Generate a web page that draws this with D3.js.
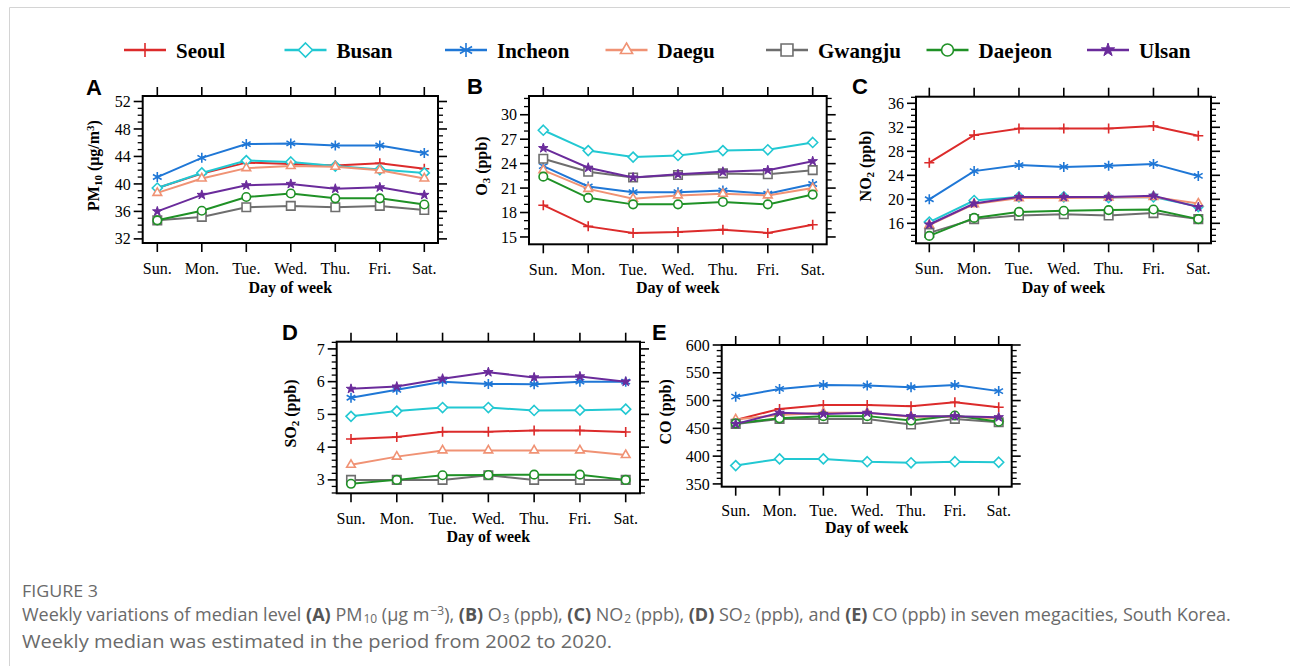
<!DOCTYPE html>
<html>
<head>
<meta charset="utf-8">
<script src="https://cdn.jsdelivr.net/npm/d3@7"></script>
<style>
  body { margin: 0; background: #fff; }
  svg { display: block; }
</style>
</head>
<body>
<div id="chart"></div>
<script>
const days = ['Sun.', 'Mon.', 'Tue.', 'Wed.', 'Thu.', 'Fri.', 'Sat.'];
const cities = ['Seoul', 'Busan', 'Incheon', 'Daegu', 'Gwangju', 'Daejeon', 'Ulsan'];
const colors = ['#dc2b2b', '#22c8d2', '#1f77d6', '#f09274', '#6e6e6e', '#1f9126', '#6a2b9b'];
const markers = ['plus', 'diamond', 'asterisk', 'triangle', 'square', 'circle', 'star'];

// one row per city (same order as cities), Sun..Sat
const pm10 = [
  [39.4, 41.5, 43.1, 42.9, 42.7, 43.0, 42.2],
  [39.4, 41.6, 43.4, 43.2, 42.6, 42.1, 41.6],
  [41.0, 43.8, 45.8, 45.9, 45.6, 45.6, 44.5],
  [38.7, 40.8, 42.3, 42.6, 42.5, 42.0, 40.8],
  [34.7, 35.2, 36.6, 36.8, 36.6, 36.8, 36.2],
  [34.7, 36.1, 38.1, 38.6, 37.9, 37.9, 37.0],
  [36.0, 38.4, 39.8, 40.0, 39.3, 39.5, 38.4]
];
const o3 = [
  [18.9, 16.3, 15.5, 15.6, 15.9, 15.5, 16.5],
  [28.1, 25.6, 24.8, 25.0, 25.6, 25.7, 26.6],
  [23.7, 21.2, 20.5, 20.5, 20.7, 20.3, 21.5],
  [23.2, 20.9, 19.7, 20.1, 20.3, 20.1, 21.0],
  [24.6, 23.0, 22.3, 22.6, 22.8, 22.7, 23.2],
  [22.4, 19.8, 19.0, 19.0, 19.3, 19.0, 20.2],
  [25.9, 23.5, 22.3, 22.7, 23.0, 23.2, 24.3]
];
const no2 = [
  [26.1, 30.7, 31.8, 31.8, 31.8, 32.2, 30.6],
  [16.2, 19.8, 20.4, 20.4, 20.3, 20.4, 18.8],
  [20.0, 24.7, 25.7, 25.4, 25.6, 25.9, 23.9],
  [15.7, 19.2, 20.2, 20.2, 20.3, 20.4, 19.3],
  [14.4, 16.7, 17.3, 17.5, 17.3, 17.7, 16.7],
  [13.9, 16.9, 17.9, 18.1, 18.2, 18.3, 16.7],
  [15.8, 19.3, 20.4, 20.4, 20.4, 20.6, 18.7]
];
const so2 = [
  [4.25, 4.31, 4.47, 4.47, 4.51, 4.51, 4.46],
  [4.94, 5.10, 5.21, 5.21, 5.12, 5.13, 5.16],
  [5.51, 5.75, 6.00, 5.93, 5.92, 6.00, 6.00],
  [3.46, 3.71, 3.90, 3.90, 3.90, 3.90, 3.76],
  [3.00, 3.00, 3.00, 3.14, 3.00, 3.00, 3.00],
  [2.88, 3.00, 3.14, 3.15, 3.16, 3.16, 3.00],
  [5.78, 5.85, 6.09, 6.29, 6.13, 6.16, 6.00]
];
const co = [
  [465, 485, 492, 492, 490, 497, 488],
  [383, 395, 395, 390, 388, 390, 389],
  [507, 521, 528, 527, 524, 528, 517],
  [466, 474, 478, 478, 471, 471, 468],
  [458, 467, 467, 467, 457, 467, 461],
  [459, 468, 472, 472, 464, 473, 462],
  [458, 478, 476, 478, 472, 472, 470]
];

const pm10Ticks = [32, 36, 40, 44, 48, 52];
const o3Ticks = [15, 18, 21, 24, 27, 30];
const no2Ticks = [16, 20, 24, 28, 32, 36];
const so2Ticks = [3, 4, 5, 6, 7];
const coTicks = [350, 400, 450, 500, 550, 600];

const width = 1290, height = 666;
const serif = "'Liberation Serif', 'Times New Roman', serif";

const svg = d3.select('#chart').append('svg')
  .attr('width', width)
  .attr('height', height);

// page border (top + left)
svg.append('path')
  .attr('d', `M9.5,${height} V7.5 H${width}`)
  .attr('fill', 'none')
  .attr('stroke', '#d4d4d4')
  .attr('stroke-width', 1);

function markerPath(type, r) {
  const c = Math.cos(Math.PI / 6) * r, s = Math.sin(Math.PI / 6) * r;
  const q = r * 0.85;
  switch (type) {
    case 'plus': return `M${-r},0H${r}M0,${-r}V${r}`;
    case 'diamond': return `M0,${-r}L${r},0L0,${r}L${-r},0Z`;
    case 'asterisk': return `M0,${-r}V${r}M${-c},${-s}L${c},${s}M${-c},${s}L${c},${-s}`;
    case 'triangle': return `M0,${-r}L${c},${s}L${-c},${s}Z`;
    case 'square': return `M${-q},${-q}H${q}V${q}H${-q}Z`;
    case 'circle': return `M${q},0A${q},${q} 0 1,1 ${-q},0A${q},${q} 0 1,1 ${q},0`;
    case 'star': return d3.symbol(d3.symbolStar, r * r / 0.89)();
  }
}

function drawMarker(g, i, x, y, r) {
  const t = markers[i];
  g.append('path')
    .attr('transform', `translate(${x},${y})`)
    .attr('d', markerPath(t, r))
    .attr('fill', t === 'star' ? colors[i] : (t === 'plus' || t === 'asterisk' ? 'none' : '#fff'))
    .attr('stroke', colors[i])
    .attr('stroke-width', t === 'star' ? 1 : 1.6);
}

// legend
const legend = svg.append('g');
cities.forEach((c, i) => {
  const x0 = 124 + i * 160.5;
  legend.append('line')
    .attr('x1', x0).attr('x2', x0 + 42)
    .attr('y1', 50).attr('y2', 50)
    .attr('stroke', colors[i])
    .attr('stroke-width', 2.5);
  drawMarker(legend, i, x0 + 21, 50, 7);
  legend.append('text')
    .attr('x', x0 + 52).attr('y', 58)
    .attr('font-family', serif)
    .attr('font-weight', 'bold')
    .attr('font-size', 21)
    .text(c);
});

const panels = [
  {letter: 'A', data: pm10, ticks: pm10Ticks, minor: 1, domain: [31.4, 52.8],
   box: [142.7, 96, 438, 243], pad: [14.6, 13.7], lx: 86, ly: 95, tx: 99,
   title: [['PM', 0], ['10', -1], [' (μg/m', 0], ['3', 1], [')', 0]], tickY: 31, dayY: 50},
  {letter: 'B', data: o3, ticks: o3Ticks, minor: 1, domain: [14.1, 32.3],
   box: [529, 96, 826.7, 244.3], pad: [14.3, 14], lx: 467, ly: 94, tx: 487,
   title: [['O', 0], ['3', -1], [' (ppb)', 0]], tickY: 31, dayY: 49},
  {letter: 'C', data: no2, ticks: no2Ticks, minor: 1, domain: [12.67, 37.1],
   box: [916, 96.7, 1211, 243.3], pad: [13.3, 12.7], lx: 852, ly: 94, tx: 871,
   title: [['NO', 0], ['2', -1], [' (ppb)', 0]], tickY: 31, dayY: 50},
  {letter: 'D', data: so2, ticks: so2Ticks, minor: 0.2, domain: [2.59, 7.22],
   box: [336.7, 341.7, 640, 493.3], pad: [14.3, 14.3], lx: 282, ly: 340, tx: 296,
   title: [['SO', 0], ['2', -1], [' (ppb)', 0]], tickY: 31, dayY: 49},
  {letter: 'E', data: co, ticks: coTicks, minor: 10, domain: [345, 600],
   box: [721.7, 345, 1011.7, 486.7], pad: [14, 13], lx: 652, ly: 340, tx: 671,
   title: [['CO (ppb)', 0]], tickY: 29, dayY: 46}
];

panels.forEach(p => {
  const [x0, y0, x1, y1] = p.box;
  const g = svg.append('g');
  const x = d3.scalePoint().domain(days).range([x0 + p.pad[0], x1 - p.pad[1]]);
  const y = d3.scaleLinear().domain(p.domain).range([y1, y0]);

  // minor + major ticks on left and right, pointing outward
  const minorVals = d3.range(Math.ceil(p.domain[0] / p.minor) * p.minor, p.domain[1], p.minor)
    .filter(v => !p.ticks.some(t => Math.abs(t - v) < 1e-6));
  [[x0, -1], [x1, 1]].forEach(([xe, dir]) => {
    g.selectAll(null).data(minorVals).join('line')
      .attr('x1', xe).attr('x2', xe + dir * 5)
      .attr('y1', d => y(d)).attr('y2', d => y(d))
      .attr('stroke', '#000').attr('stroke-width', 1.3);
    g.selectAll(null).data(p.ticks).join('line')
      .attr('x1', xe).attr('x2', xe + dir * 9)
      .attr('y1', d => y(d)).attr('y2', d => y(d))
      .attr('stroke', '#000').attr('stroke-width', 1.6);
  });
  [[y0, -1], [y1, 1]].forEach(([ye, dir]) => {
    g.selectAll(null).data(days).join('line')
      .attr('x1', d => x(d)).attr('x2', d => x(d))
      .attr('y1', ye).attr('y2', ye + dir * 9)
      .attr('stroke', '#000').attr('stroke-width', 1.6);
  });

  g.selectAll(null).data(p.ticks).join('text')
    .attr('x', x0 - 12).attr('y', d => y(d))
    .attr('dy', '0.35em')
    .attr('text-anchor', 'end')
    .attr('font-family', serif).attr('font-size', 16)
    .text(d => d);

  g.selectAll(null).data(days).join('text')
    .attr('x', d => x(d)).attr('y', y1 + p.tickY)
    .attr('text-anchor', 'middle')
    .attr('font-family', serif).attr('font-size', 16)
    .text(d => d);

  g.append('text')
    .attr('x', (x0 + x1) / 2).attr('y', y1 + p.dayY)
    .attr('text-anchor', 'middle')
    .attr('font-family', serif).attr('font-weight', 'bold').attr('font-size', 16)
    .text('Day of week');

  const yt = g.append('text')
    .attr('transform', `translate(${p.tx},${(y0 + y1) / 2 - 4}) rotate(-90)`)
    .attr('text-anchor', 'middle')
    .attr('font-family', serif).attr('font-weight', 'bold').attr('font-size', 16);
  p.title.forEach(([t, s]) => {
    const ts = yt.append('tspan').text(t);
    if (s !== 0) ts.attr('font-size', 11).attr('baseline-shift', s > 0 ? '45%' : '-25%');
  });

  g.append('text')
    .attr('x', p.lx).attr('y', p.ly)
    .attr('font-family', "'Liberation Sans', Arial, sans-serif")
    .attr('font-weight', 'bold').attr('font-size', 22)
    .text(p.letter);

  const line = d3.line().x((d, i) => x(days[i])).y(d => y(d));
  p.data.forEach((row, ci) => {
    g.append('path')
      .attr('d', line(row))
      .attr('fill', 'none')
      .attr('stroke', colors[ci])
      .attr('stroke-width', 2);
    row.forEach((v, di) => drawMarker(g, ci, x(days[di]), y(v), 5));
  });

  g.append('rect')
    .attr('x', x0).attr('y', y0)
    .attr('width', x1 - x0).attr('height', y1 - y0)
    .attr('fill', 'none').attr('stroke', '#000').attr('stroke-width', 2);
});

// caption
const cap = svg.append('g')
  .attr('font-family', "'Open Sans', 'Noto Sans', sans-serif")
  .attr('fill', '#6a6a6a');
cap.append('text')
  .attr('x', 22).attr('y', 597)
  .attr('font-size', 17)
  .attr('textLength', 76)
  .attr('lengthAdjust', 'spacingAndGlyphs')
  .text('FIGURE 3');

const line1 = [
  ['Weekly variations of median level ', ''], ['(A)', 'b'], [' PM', ''], ['10', 'sub'],
  [' (µg m', ''], ['−3', 'sup'], ['), ', ''], ['(B)', 'b'], [' O', ''], ['3', 'sub'],
  [' (ppb), ', ''], ['(C)', 'b'], [' NO', ''], ['2', 'sub'], [' (ppb), ', ''],
  ['(D)', 'b'], [' SO', ''], ['2', 'sub'], [' (ppb), and ', ''], ['(E)', 'b'],
  [' CO (ppb) in seven megacities, South Korea.', '']
];
const t1 = cap.append('text').attr('x', 22).attr('y', 621).attr('font-size', 18);
line1.forEach(([t, k]) => {
  const ts = t1.append('tspan').text(t);
  if (k === 'b') ts.attr('font-weight', 'bold').attr('fill', '#555');
  if (k === 'sub') ts.attr('font-size', 12).attr('dx', 1).attr('baseline-shift', '-15%');
  if (k === 'sup') ts.attr('font-size', 12).attr('dx', 1).attr('baseline-shift', '50%');
});
cap.append('text')
  .attr('x', 22).attr('y', 648)
  .attr('font-size', 18)
  .attr('textLength', 590)
  .attr('lengthAdjust', 'spacingAndGlyphs')
  .text('Weekly median was estimated in the period from 2002 to 2020.');
</script>
</body>
</html>
